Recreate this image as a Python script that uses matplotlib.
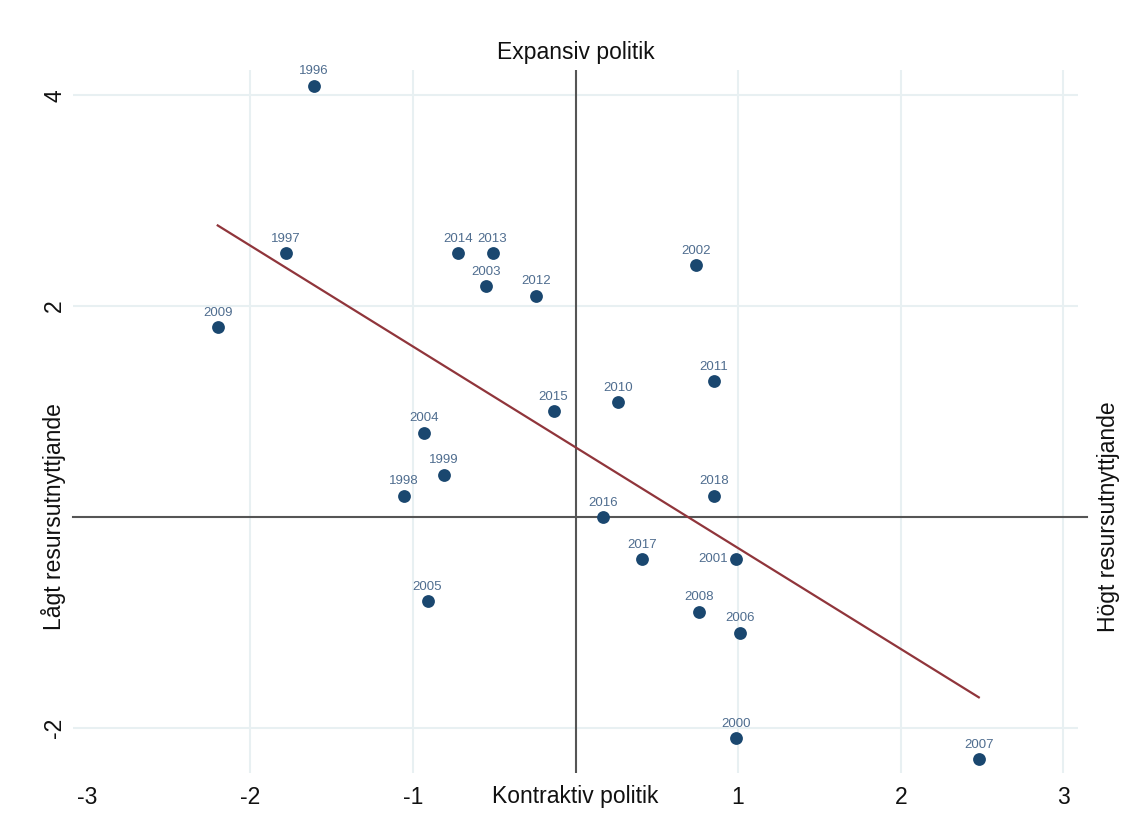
import matplotlib.pyplot as plt
import numpy as np

plt.rcParams['font.family'] = ['Liberation Sans', 'DejaVu Sans']

years = ['1996', '1997', '2009', '2014', '2013', '2003', '2012', '2002', '2011',
         '2010', '2015', '2004', '1999', '1998', '2018', '2016', '2017', '2001',
         '2005', '2008', '2006', '2000', '2007']
policy = [-1.61, -1.78, -2.20, -0.72, -0.51, -0.55, -0.245, 0.74, 0.85,
          0.26, -0.135, -0.93, -0.81, -1.055, 0.85, 0.17, 0.41, 0.99,
          -0.91, 0.76, 1.01, 0.99, 2.48]
resource = [4.09, 2.50, 1.80, 2.50, 2.50, 2.19, 2.10, 2.39, 1.29,
            1.09, 1.00, 0.80, 0.40, 0.20, 0.20, 0.00, -0.40, -0.40,
            -0.80, -0.90, -1.10, -2.10, -2.30]
left_labels = ['2001']

xticks = [-3, -2, -1, 0, 1, 2, 3]
xticklabels = ['-3', '-2', '-1', 'Kontraktiv politik', '1', '2', '3']
yticks = [-2, 0, 2, 4]
yticklabels = ['-2', 'Lågt resursutnyttjande', '2', '4']

navy = '#1a476f'
lab_col = '#4f6d8f'
maroon = '#90353b'
grid_col = '#e8f0f2'
fs = 16.5

fig = plt.figure(figsize=(11.3, 8.31), dpi=100)
ax = fig.add_axes([73/1130, 1-773/831, (1078-73)/1130, (773-70)/831])
ax.set_xlim(-3.09, 3.09)
ax.set_ylim(-2.43, 4.24)
for s in ax.spines.values():
    s.set_visible(False)

# grid
for gx in [-2, -1, 1, 2, 3]:
    ax.axvline(gx, color=grid_col, lw=1.5, zorder=0)
for gy in [-2, 2, 4]:
    ax.axhline(gy, color=grid_col, lw=1.5, zorder=0)

# reference lines
ax.axvline(0, color='#555555', lw=1.5, zorder=1)
ax.plot([-3.09, 3.145], [0, 0], color='#555555', lw=1.5, zorder=1, clip_on=False)

# fitted line
x = np.array(policy)
y = np.array(resource)
b, a = np.polyfit(x, y, 1)
xs = np.array([x.min(), x.max()])
ax.plot(xs, a + b * xs, color=maroon, lw=1.6, zorder=2)

ax.scatter(x, y, s=85, color=navy, zorder=3, linewidths=0)
for yr, px, py in zip(years, policy, resource):
    if yr in left_labels:
        ax.annotate(yr, (px, py), xytext=(-6, 0), textcoords='offset points',
                    ha='right', va='center', fontsize=9.5, color=lab_col)
    else:
        ax.annotate(yr, (px, py), xytext=(0, 6), textcoords='offset points',
                    ha='center', va='bottom', fontsize=9.5, color=lab_col)

ax.set_xticks(xticks)
ax.set_xticklabels(xticklabels, fontsize=fs, color='#111111')
ax.set_yticks(yticks)
ax.set_yticklabels(yticklabels, fontsize=fs, rotation=90, va='center', color='#111111')
ax.tick_params(axis='x', length=0, pad=9)
ax.tick_params(axis='y', length=0, pad=5)

top = ax.secondary_xaxis('top')
top.set_xticks([0])
top.set_xticklabels(['Expansiv politik'], fontsize=fs, color='#111111')
top.tick_params(length=0, pad=4)
for s in top.spines.values():
    s.set_visible(False)

right = ax.secondary_yaxis('right')
right.set_yticks([0])
right.set_yticklabels(['Högt resursutnyttjande'], fontsize=fs, rotation=90, va='center',
                      color='#111111')
right.tick_params(length=0, pad=14)
for s in right.spines.values():
    s.set_visible(False)

fig.savefig('out.png', dpi=100)
